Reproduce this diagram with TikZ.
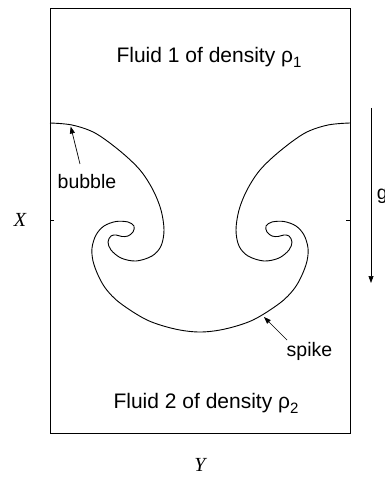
\documentclass[tikz,border=0pt]{standalone}
\usepackage{fontspec}
\setmainfont{Liberation Sans}
\newfontfamily\timesf{Liberation Serif}
\usetikzlibrary{arrows.meta}
\newcommand\rhosub[1]{ρ\raisebox{-5pt}{\fontsize{15}{15}\selectfont #1}}
\begin{document}
\begin{tikzpicture}[x=1pt,y=-1pt, line width=0.9pt,
  lab/.style={font=\fontsize{19.5}{22}\selectfont, inner sep=0pt},
  big/.style={font=\fontsize{21}{24}\selectfont, inner sep=0pt},
  axlab/.style={font=\fontsize{20}{24}\selectfont\timesf\itshape, inner sep=0pt},
  tip/.style={-{Triangle[length=7pt,width=5pt]}, line width=0.7pt}]
\useasboundingbox (0,0) rectangle (384,478);
\node[draw, inner sep=0pt, minimum width=300pt, minimum height=425pt] (frame) at (200,220.5) {};
% ticks
\draw (50,220) -- (54,220);
\draw (346,220) -- (350,220);
% interface
\draw plot[smooth, tension=0.55] coordinates {
(50,123) (72,125) (95,133) (120,151) (140,170) (153,190) (161,210) (164,230) (161,246) (152,256) (136,261) (121,258) (111,250) (108,242) (111,236) (116,235) (122,236.5) (128,236) (133,232) (134,226) (128,222) (116,221.5) (104,226) (96,235) (92,248) (93,261) (98,275) (106,289) (120,303) (147,320) (175,329) (200,332)
(225,329) (253,320) (280,303) (294,289) (302,275) (307,261) (308,248) (304,235) (296,226) (284,221.5) (272,222) (266,226) (267,232) (272,236) (278,236.5) (284,235) (289,236) (292,242) (289,250) (279,258) (264,261) (248,256) (239,246) (236,230) (239,210) (247,190) (260,170) (280,151) (305,133) (328,125) (350,123)};
% texts
\node[big, anchor=base] (f1) at (209,63) {Fluid 1 of density \rhosub{1}};
\node[big, anchor=base] (f2) at (206,408) {Fluid 2 of density \rhosub{2}};
\node[lab, anchor=base] (bub) at (87,188) {bubble};
\node[lab, anchor=base] (spk) at (309.5,356) {spike};
\node[lab, anchor=base west] (g) at (376.5,199) {g};
\node[axlab, anchor=base] (X) at (20,226) {X};
\node[axlab, anchor=base] (Y) at (200,471) {Y};
% arrows
\coordinate (bubtail) at (80,164);
\coordinate (bubtip) at (70.7,126.5);
\draw[tip] (bubtail) -- (bubtip);
\coordinate (spktail) at (287,340);
\coordinate (spktip) at (264,317);
\draw[tip] (spktail) -- (spktip);
\coordinate (gtop) at (371,108);
\coordinate (gbot) at (371,283);
\draw[tip] (gtop) -- (gbot);
\end{tikzpicture}
\end{document}
